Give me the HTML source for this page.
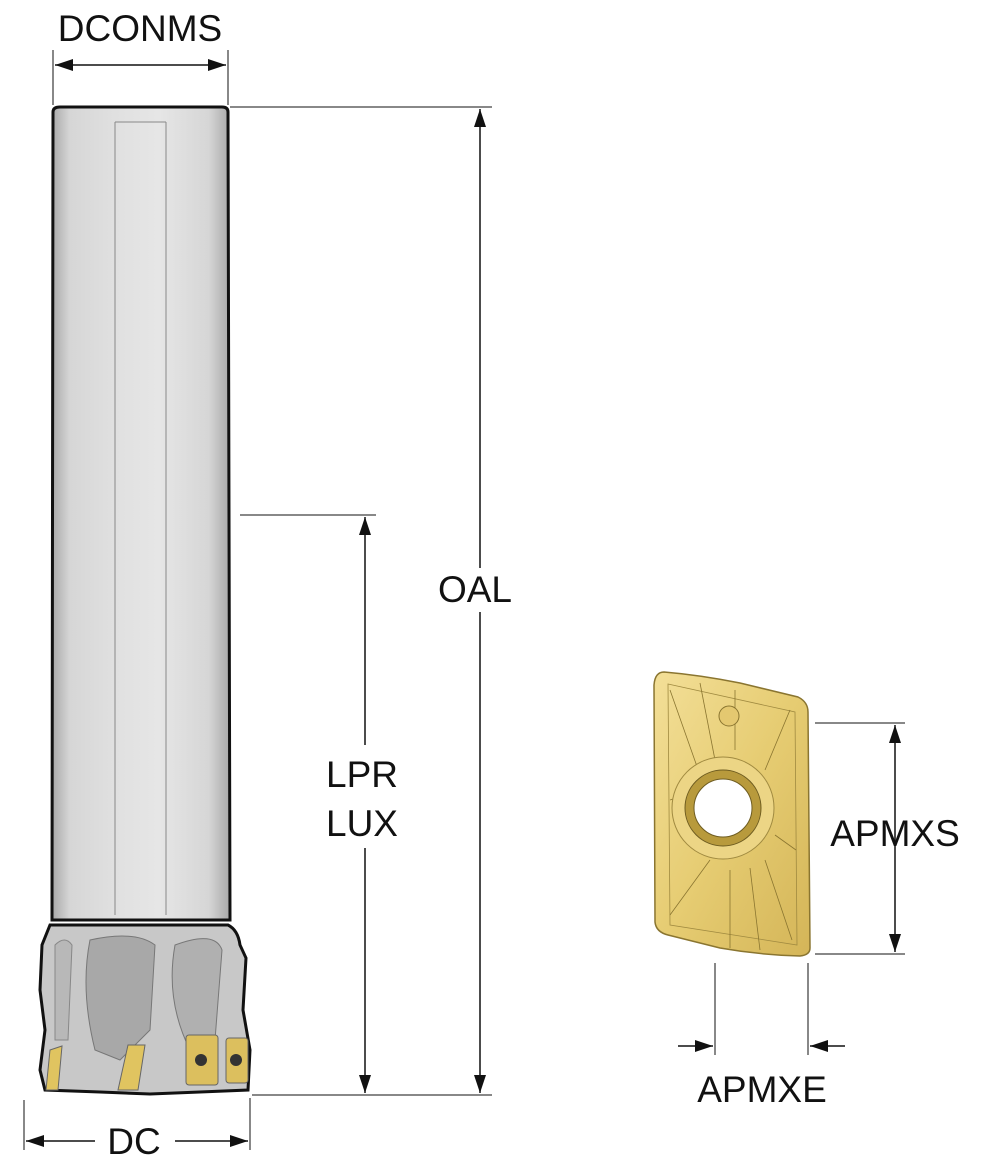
<!DOCTYPE html>
<html><head><style>
html,body{margin:0;padding:0;background:#fff;}
svg{display:block;}
text{font-family:"Liberation Sans",sans-serif;fill:#111;}
</style></head><body>
<svg width="985" height="1167" viewBox="0 0 985 1167" xmlns="http://www.w3.org/2000/svg">
<defs>
<linearGradient id="sh" x1="0" x2="1" y1="0" y2="0">
<stop offset="0" stop-color="#a8a8a8"/><stop offset="0.1" stop-color="#d6d6d6"/>
<stop offset="0.35" stop-color="#e0e0e0"/><stop offset="0.6" stop-color="#e6e6e6"/>
<stop offset="0.88" stop-color="#d6d6d6"/><stop offset="1" stop-color="#a8a8a8"/>
</linearGradient>
<linearGradient id="gd" x1="0" x2="1" y1="0" y2="1">
<stop offset="0" stop-color="#f3df98"/><stop offset="0.5" stop-color="#e6cc72"/><stop offset="1" stop-color="#d4b558"/>
</linearGradient>
<marker id="ar" viewBox="0 0 18 12" refX="18" refY="6" markerWidth="18" markerHeight="12" orient="auto-start-reverse" markerUnits="userSpaceOnUse">
<path d="M0,0 L18,6 L0,12 z" fill="#111"/></marker>
</defs>

<!-- shank -->
<path d="M53,112 Q53,107 60,107 L222,107 Q228,107 228,112 L230,920 L52,920 Z" fill="url(#sh)" stroke="#111" stroke-width="3"/>
<line x1="115" y1="122" x2="115" y2="915" stroke="#888" stroke-width="1"/>
<line x1="166" y1="122" x2="166" y2="915" stroke="#888" stroke-width="1"/>
<line x1="115" y1="122" x2="166" y2="122" stroke="#888" stroke-width="1"/>
<!-- head -->
<path d="M50,925 L228,925 Q238,930 240,945 L246,958 L243,1010 L250,1050 L248,1090 L200,1092 L150,1094 L100,1092 L45,1090 L40,1070 L45,1030 L40,990 L42,945 Z" fill="#c8c8c8" stroke="#111" stroke-width="3"/>
<path d="M90,940 Q135,930 155,945 L150,1030 L120,1060 L95,1050 Q80,990 90,940Z" fill="#a8a8a8" stroke="#777"/>
<path d="M175,945 Q215,930 222,950 L215,1040 L190,1050 Q165,1000 175,945Z" fill="#b0b0b0" stroke="#777"/>
<path d="M55,945 Q65,935 72,945 L68,1040 L55,1040Z" fill="#b8b8b8" stroke="#888"/>
<path d="M50,1050 L62,1046 L58,1090 L46,1090Z" fill="#e0c460" stroke="#666"/>
<path d="M128,1045 L145,1045 L138,1090 L118,1090Z" fill="#e0c460" stroke="#666"/>
<rect x="186" y="1035" width="32" height="50" rx="3" fill="#dcbf5e" stroke="#666"/>
<rect x="226" y="1038" width="22" height="45" rx="3" fill="#dcbf5e" stroke="#666"/>
<circle cx="201" cy="1060" r="6" fill="#333"/><circle cx="236" cy="1060" r="6" fill="#333"/>

<!-- OAL -->
<line x1="230" y1="107" x2="492" y2="107" stroke="#111" stroke-width="1"/>
<line x1="252" y1="1095" x2="492" y2="1095" stroke="#111" stroke-width="1"/>
<line x1="480" y1="109" x2="480" y2="568" stroke="#111" stroke-width="1.5" marker-start="url(#ar)"/>
<line x1="480" y1="612" x2="480" y2="1093" stroke="#111" stroke-width="1.5" marker-end="url(#ar)"/>
<text x="475" y="602" font-size="37" text-anchor="middle">OAL</text>
<!-- LPR -->
<line x1="240" y1="515" x2="376" y2="515" stroke="#111" stroke-width="1"/>
<line x1="365" y1="517" x2="365" y2="745" stroke="#111" stroke-width="1.5" marker-start="url(#ar)"/>
<line x1="365" y1="848" x2="365" y2="1093" stroke="#111" stroke-width="1.5" marker-end="url(#ar)"/>
<text x="362" y="787" font-size="37" text-anchor="middle">LPR</text>
<text x="362" y="836" font-size="37" text-anchor="middle">LUX</text>
<!-- DCONMS -->
<text x="140" y="41" font-size="37" text-anchor="middle">DCONMS</text>
<line x1="53" y1="50" x2="53" y2="105" stroke="#111" stroke-width="1"/>
<line x1="228" y1="50" x2="228" y2="105" stroke="#111" stroke-width="1"/>
<line x1="55" y1="65" x2="226" y2="65" stroke="#111" stroke-width="1.5" marker-start="url(#ar)" marker-end="url(#ar)"/>
<!-- DC -->
<line x1="24" y1="1100" x2="24" y2="1150" stroke="#111" stroke-width="1"/>
<line x1="250" y1="1098" x2="250" y2="1150" stroke="#111" stroke-width="1"/>
<line x1="26" y1="1141" x2="95" y2="1141" stroke="#111" stroke-width="1.5" marker-start="url(#ar)"/>
<line x1="175" y1="1141" x2="248" y2="1141" stroke="#111" stroke-width="1.5" marker-end="url(#ar)"/>
<text x="134" y="1154" font-size="37" text-anchor="middle">DC</text>

<!-- insert -->
<path d="M664,672 Q700,675 740,683 L798,697 Q808,702 808,712 L810,948 Q810,955 800,956 Q760,955 720,948 L668,935 Q656,932 655,922 L654,685 Q655,672 664,672Z" fill="url(#gd)" stroke="#8a7530" stroke-width="1.5"/>
<path d="M668,684 L795,712 L797,945 L670,925Z" fill="none" stroke="#a08a40" stroke-width="0.8"/>
<g stroke="#8a7530" stroke-width="0.8">
<line x1="670" y1="690" x2="700" y2="775"/><line x1="700" y1="683" x2="715" y2="760"/>
<line x1="735" y1="690" x2="735" y2="750"/><line x1="790" y1="710" x2="765" y2="770"/>
<line x1="670" y1="800" x2="685" y2="795"/><line x1="670" y1="915" x2="710" y2="860"/>
<line x1="730" y1="948" x2="730" y2="870"/><line x1="760" y1="950" x2="750" y2="868"/>
<line x1="792" y1="940" x2="765" y2="860"/><line x1="796" y1="850" x2="775" y2="835"/>
</g>
<circle cx="729" cy="716" r="10" fill="#e4c870" stroke="#8a7530"/>
<circle cx="723" cy="808" r="51" fill="#ecd585" stroke="#a08a40"/>
<circle cx="723" cy="808" r="38" fill="#b89a3c" stroke="#6e5c20"/>
<circle cx="723" cy="808" r="29" fill="#fff" stroke="#6e5c20"/>

<!-- APMXS -->
<line x1="815" y1="723" x2="905" y2="723" stroke="#111" stroke-width="1"/>
<line x1="815" y1="954" x2="905" y2="954" stroke="#111" stroke-width="1"/>
<line x1="895" y1="725" x2="895" y2="952" stroke="#111" stroke-width="1.5" marker-start="url(#ar)" marker-end="url(#ar)"/>
<text x="895" y="846" font-size="37" text-anchor="middle">APMXS</text>
<!-- APMXE -->
<line x1="715" y1="963" x2="715" y2="1055" stroke="#111" stroke-width="1"/>
<line x1="808" y1="963" x2="808" y2="1055" stroke="#111" stroke-width="1"/>
<line x1="678" y1="1046" x2="713" y2="1046" stroke="#111" stroke-width="1.5" marker-end="url(#ar)"/>
<line x1="845" y1="1046" x2="810" y2="1046" stroke="#111" stroke-width="1.5" marker-end="url(#ar)"/>
<text x="762" y="1102" font-size="37" text-anchor="middle">APMXE</text>
</svg>
</body></html>
